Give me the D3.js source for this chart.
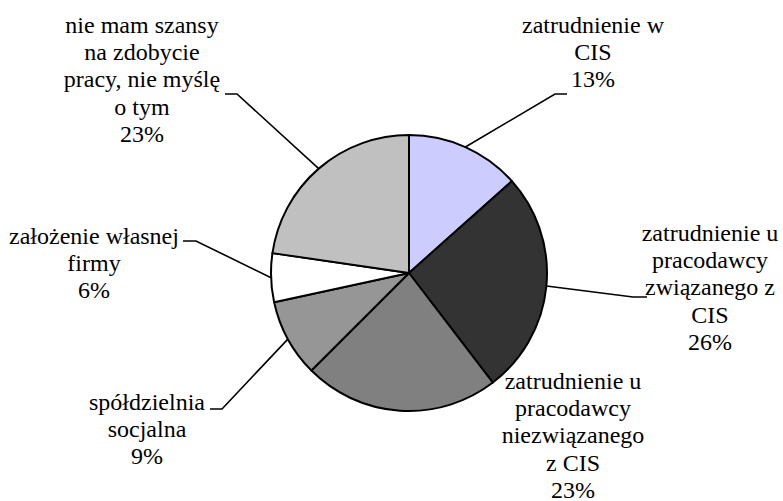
<!DOCTYPE html>
<html><head><meta charset="utf-8"><script src="https://cdn.jsdelivr.net/npm/d3@7"></script></head>
<body style="margin:0">
<script>
// slice names (lines split by \n), share values and printed percentages
var categories = [
  "zatrudnienie w\nCIS",
  "zatrudnienie u\npracodawcy\nzwiązanego z\nCIS",
  "zatrudnienie u\npracodawcy\nniezwiązanego\nz CIS",
  "spółdzielnia\nsocjalna",
  "założenie własnej\nfirmy",
  "nie mam szansy\nna zdobycie\npracy, nie myślę\no tym"
];
var values = [13.4, 26.2, 22.9, 9.1, 5.7, 22.7];
var pctLabels = ["13%", "26%", "23%", "9%", "6%", "23%"];
var colors = ["#ccccff", "#333333", "#808080", "#969696", "#ffffff", "#c0c0c0"];

// label layout: text centre x, first baseline y, leader elbow + end (null = no leader)
var labelPos = [
  { x: 593, y: 33, elbow: [555, 94], end: [567, 94] },
  { x: 710, y: 241, elbow: [633, 297], end: [647, 297] },
  { x: 573, y: 389, elbow: null },
  { x: 147, y: 410, elbow: [222, 409], end: [210, 409] },
  { x: 94, y: 244, elbow: [196, 241], end: [183, 241] },
  { x: 142, y: 33, elbow: [237, 94], end: [225, 94] }
];

var w = 783, h = 501;
var cx = 409, cy = 273, r = 138;
var lineStep = 27.2;

var svg = d3.select('body').append('svg').attr('width', w).attr('height', h);

var pie = d3.pie().sort(null).value(function (d) { return d; });
var arcs = pie(values);
var arc = d3.arc().innerRadius(0).outerRadius(r);

var g = svg.append('g').attr('transform', 'translate(' + cx + ',' + cy + ')');

g.selectAll('path')
  .data(arcs)
  .enter()
  .append('path')
  .attr('d', arc)
  .attr('fill', function (d, i) { return colors[i]; })
  .attr('stroke', '#000')
  .attr('stroke-width', 2)
  .attr('stroke-linejoin', 'round');

// leader lines from slice mid-angle on the rim to the label elbow
arcs.forEach(function (a, i) {
  var p = labelPos[i];
  if (!p.elbow) return;
  var mid = (a.startAngle + a.endAngle) / 2;
  var sx = cx + r * Math.sin(mid), sy = cy - r * Math.cos(mid);
  svg.append('polyline')
    .attr('points', [[sx, sy], p.elbow, p.end].map(function (q) { return q.join(','); }).join(' '))
    .attr('fill', 'none')
    .attr('stroke', '#000')
    .attr('stroke-width', 1.6);
});

// labels, one text element per line
categories.forEach(function (c, i) {
  var lines = c.split('\n').concat([pctLabels[i]]);
  lines.forEach(function (ln, j) {
    svg.append('text')
      .attr('x', labelPos[i].x)
      .attr('y', labelPos[i].y + j * lineStep)
      .attr('text-anchor', 'middle')
      .attr('style', "font-family:'Times New Roman','Liberation Serif',Tinos,serif;font-size:24px")
      .text(ln);
  });
});
</script></body></html>
